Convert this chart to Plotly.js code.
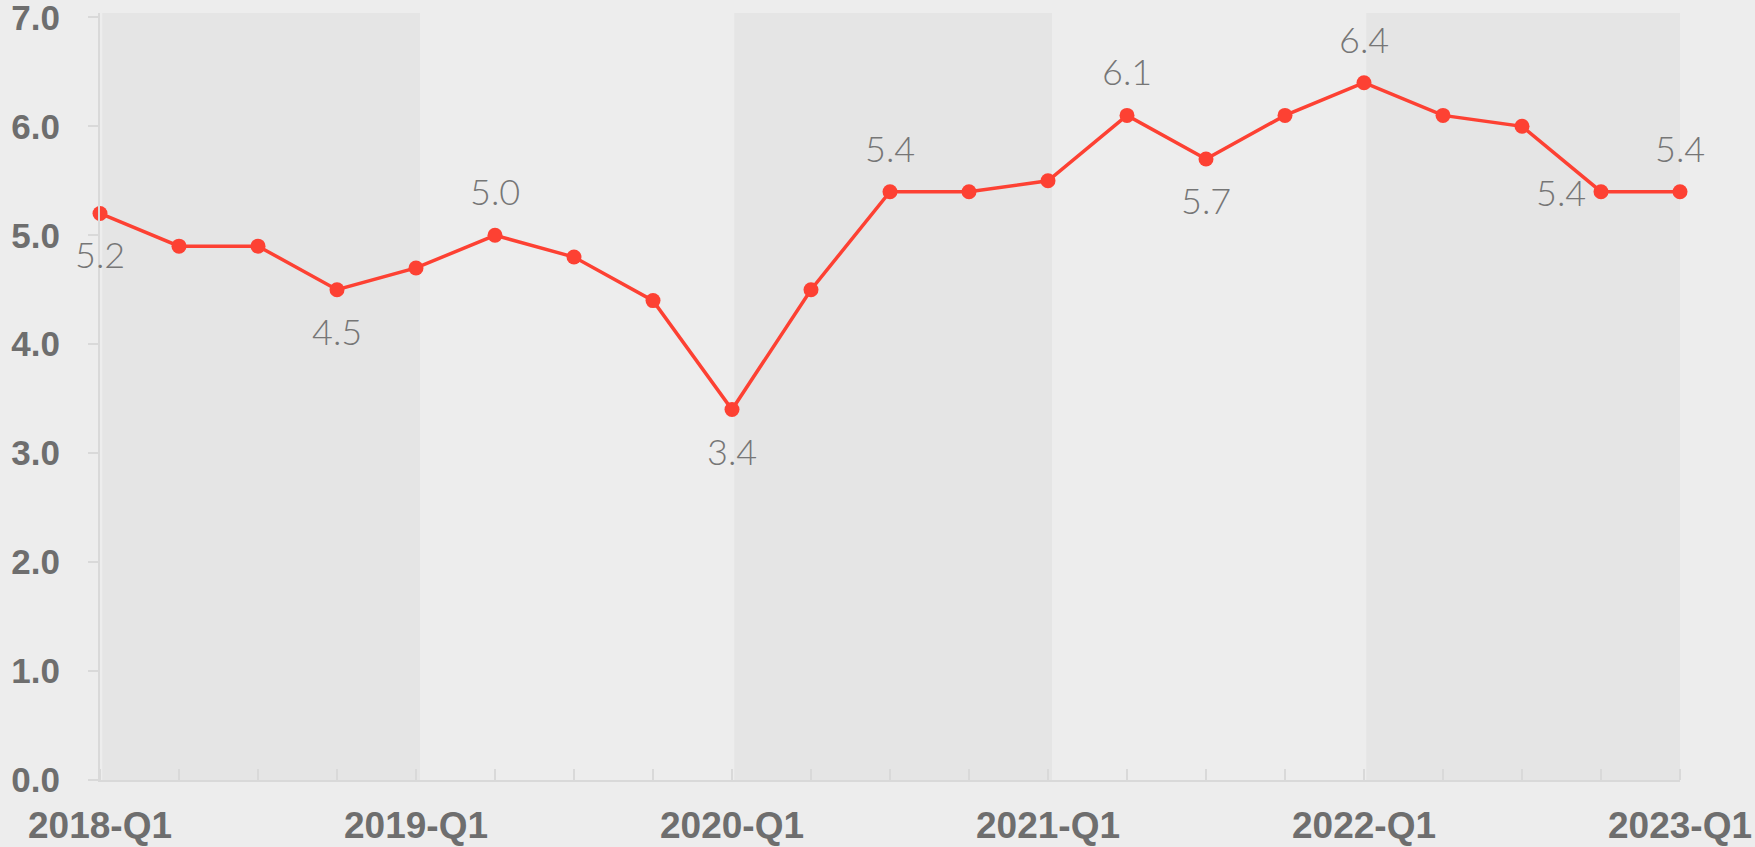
<!DOCTYPE html>
<html>
<head>
<meta charset="utf-8">
<script src="https://cdn.plot.ly/plotly-3.0.1.min.js"></script>
<style>html,body{margin:0;padding:0;background:#ededed;}#chart{width:1755px;height:847px;}</style>
</head>
<body>
<div id="chart"></div>
<script>
// Data
const quarters = ["2018-Q1","2018-Q2","2018-Q3","2018-Q4","2019-Q1","2019-Q2","2019-Q3","2019-Q4",
  "2020-Q1","2020-Q2","2020-Q3","2020-Q4","2021-Q1","2021-Q2","2021-Q3","2021-Q4",
  "2022-Q1","2022-Q2","2022-Q3","2022-Q4","2023-Q1"];
const values = [5.2,4.9,4.9,4.5,4.7,5.0,4.8,4.4,3.4,4.5,5.4,5.4,5.5,6.1,5.7,6.1,6.4,6.1,6.0,5.4,5.4];
const labelIndex = [0,3,5,8,10,13,14,16,19,20];
const labelPos   = ["below","below","above","below","above","above","below","above","left","above"];
const tickIndex = [0,4,8,12,16,20];
const yTicks = [0,1,2,3,4,5,6,7];
const yTickText = ["0.0","1.0","2.0","3.0","4.0","5.0","6.0","7.0"];
const bandStarts = [0,8,16];

const xIdx = quarters.map((q,i)=>i);

const shapes = bandStarts.map(s => ({
  type:"rect", xref:"x", yref:"y", x0:s+0.03, x1:s+4.05, y0:0, y1:7.04,
  fillcolor:"#e5e5e5", line:{width:0}, layer:"below"
}));

const annotations = labelIndex.map((i,k)=>{
  const p = labelPos[k];
  const a = {x:i, y:values[i], xref:"x", yref:"y", text:values[i].toFixed(1), showarrow:false,
    font:{family:"Lato, 'Liberation Sans', sans-serif", size:36, color:"#767676", weight:300},
    xanchor:"center", yanchor:"middle"};
  if (p==="below") a.yshift = -41;
  else if (p==="above") a.yshift = 44;
  else if (p==="left") { a.xshift = -40; }
  return a;
});

const trace = {
  x: xIdx, y: values, type:"scatter", mode:"lines+markers",
  line:{color:"#fd4133", width:3.5},
  marker:{color:"#fd4133", size:15},
  cliponaxis:false, hoverinfo:"skip"
};

const xTickFont = {family:"'Liberation Sans', Arial, sans-serif", size:37, color:"#6e6e6e", weight:"bold"};
const yTickFont = {family:"'Liberation Sans', Arial, sans-serif", size:35, color:"#6e6e6e", weight:"bold"};

const layout = {
  width:1755, height:847,
  paper_bgcolor:"#ededed", plot_bgcolor:"#ededed",
  margin:{l:100, r:75, t:13, b:67},
  showlegend:false,
  shapes: shapes,
  annotations: annotations,
  xaxis:{
    range:[0,20], tickmode:"array", tickvals:tickIndex, ticktext:tickIndex.map(i=>quarters[i]),
    showgrid:false, zeroline:false, showline:true, linecolor:"#d9d9d9", linewidth:2,
    ticks:"", tickfont:xTickFont, ticklabeloverflow:"allow",
    ticklabelstandoff:12, fixedrange:true,
    minor:{tickvals: xIdx, ticks:"inside", ticklen:11, tickwidth:2, tickcolor:"#d9d9d9", showgrid:false}
  },
  yaxis:{
    range:[0,7.04], tickmode:"array", tickvals:yTicks, ticktext:yTickText,
    showgrid:false, zeroline:false, showline:true, linecolor:"#d9d9d9", linewidth:2,
    ticks:"outside", ticklen:10, tickwidth:2, tickcolor:"#d9d9d9",
    tickfont:yTickFont, ticklabeloverflow:"allow",
    ticklabelstandoff:21, fixedrange:true
  }
};

Plotly.newPlot("chart", [trace], layout, {staticPlot:true, displayModeBar:false});
</script>
</body>
</html>
